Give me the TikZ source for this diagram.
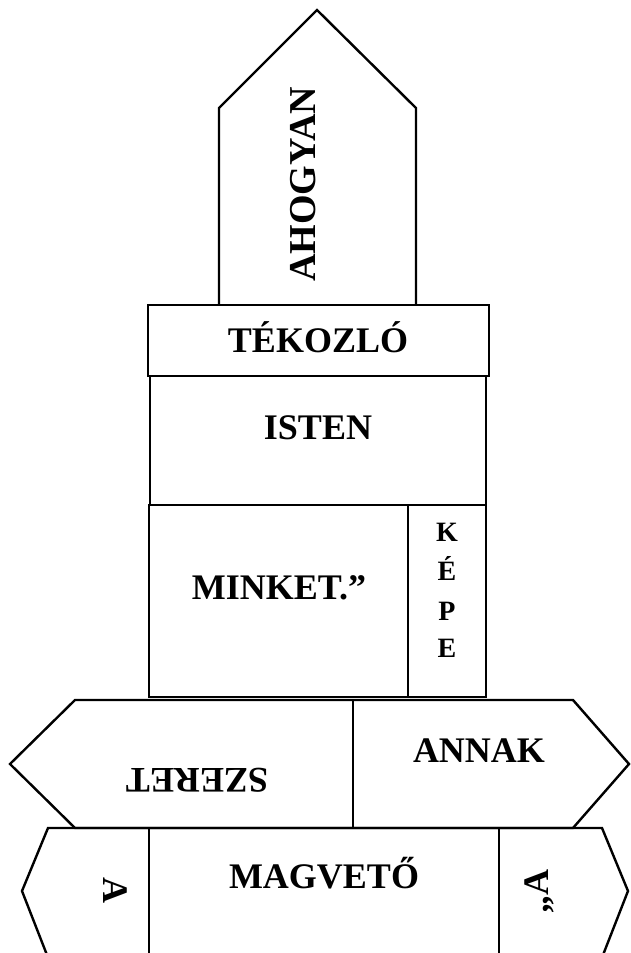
\documentclass[tikz,border=0pt]{standalone}
\usepackage{fontspec}
\setmainfont{Liberation Serif}
\tikzset{
  shapeline/.style={draw=black, line width=2.4pt, line join=miter},
  word/.style={inner sep=0pt, font=\bfseries\fontsize{36}{40}\selectfont, anchor=base},
  bigword/.style={word, font=\bfseries\fontsize{38}{42}\selectfont},
  smallword/.style={word, font=\bfseries\fontsize{28}{32}\selectfont},
}
\begin{document}
\begin{tikzpicture}[x=1pt, y=-1pt]
\useasboundingbox (0,0) rectangle (630,953);
% top pentagon
\draw[shapeline] (219,305) -- (219,108) -- (317,10) -- (416,108) -- (416,305);
% TEKOZLO box
\draw[shapeline] (148,305) rectangle (489,376);
% ISTEN box
\draw[shapeline] (150,376) rectangle (486,505);
% MINKET box and KEPE box
\draw[shapeline] (149,505) rectangle (408,697);
\draw[shapeline] (408,505) rectangle (486,697);
% middle hexagon
\draw[shapeline] (75,700) -- (573,700) -- (629,764) -- (573,828) -- (75,828) -- (10,764) -- cycle;
\draw[shapeline] (353,700) -- (353,828);
% bottom hexagon (cut at the lower edge)
\draw[shapeline] (47,955) -- (22,891) -- (48,828) -- (602,828) -- (628,891) -- (603,955);
\draw[shapeline] (149,828) -- (149,955);
\draw[shapeline] (499,828) -- (499,955);
% texts
\node[bigword, rotate=90] (ahogyan) at (315,184.5) {AHOGYAN};
\node[word] (tekozlo) at (318,352) {TÉKOZLÓ};
\node[word] (isten) at (318,439) {ISTEN};
\node[word] (minket) at (279,599) {MINKET.”};
\node[smallword] (kepeK) at (447,541) {K};
\node[smallword] (kepeE) at (447,580) {É};
\node[smallword] (kepeP) at (447,620) {P};
\node[smallword] (kepeEE) at (447,657) {E};
\node[word] (annak) at (479,762) {ANNAK};
\node[word, rotate=180] (szeret) at (197,768) {SZERET};
\node[word, rotate=-90] (aleft) at (103,890) {A};
\node[word, rotate=90] (aright) at (548,891) {„A};
\node[word] (magveto) at (324,888) {MAGVETŐ};
\end{tikzpicture}
\end{document}
